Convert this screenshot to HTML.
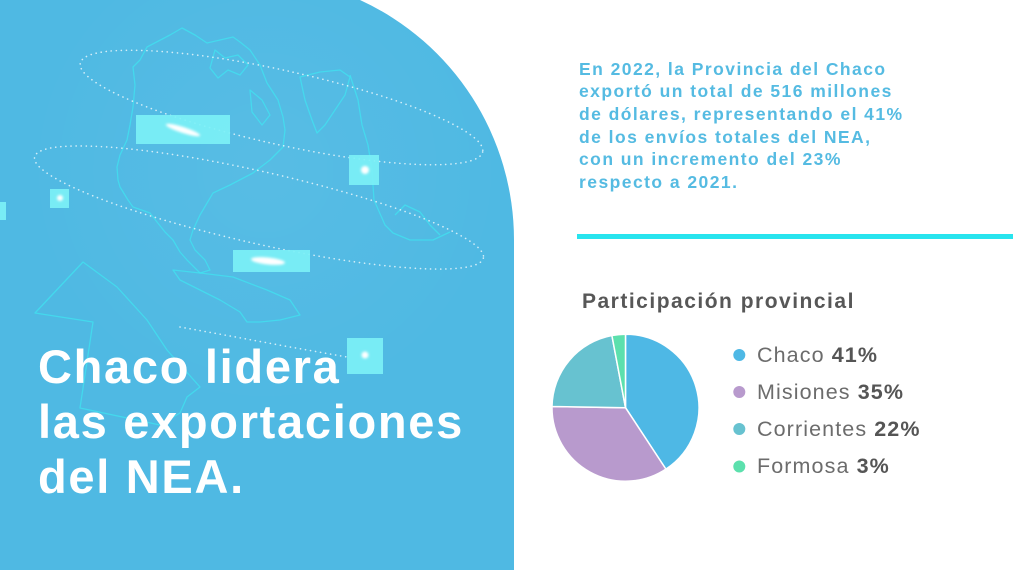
<!DOCTYPE html>
<html>
<head>
<meta charset="utf-8">
<style>
  html,body{margin:0;padding:0;background:#ffffff;}
  body{width:1024px;height:570px;position:relative;overflow:hidden;font-family:"Liberation Sans",Arial,sans-serif;}
  svg.bg{position:absolute;left:0;top:0;}
  .title{position:absolute;left:38px;top:339.2px;color:#ffffff;font-weight:bold;font-size:47px;line-height:55px;letter-spacing:1.7px;white-space:nowrap;}
  .para{position:absolute;left:579px;top:57.6px;color:#55bbe2;font-weight:bold;font-size:17.5px;line-height:22.7px;letter-spacing:1.45px;white-space:nowrap;}
  .ptitle{position:absolute;left:582px;top:290px;color:#575757;font-weight:bold;font-size:21px;line-height:24px;letter-spacing:1.5px;white-space:nowrap;}
  .legend{position:absolute;left:757px;top:336.6px;color:#6c6c6c;font-size:21.5px;line-height:37.2px;letter-spacing:1.1px;white-space:nowrap;}
  .legend b{color:#555555;}
</style>
</head>
<body>
<svg class="bg" width="1024" height="570" viewBox="0 0 1024 570" xmlns="http://www.w3.org/2000/svg">
  <defs>
    <filter id="blur1" x="-50%" y="-50%" width="200%" height="200%"><feGaussianBlur stdDeviation="1.2"/></filter>
    <radialGradient id="globe" cx="0.5" cy="0.5" r="0.5">
      <stop offset="0" stop-color="#ffffff" stop-opacity="0.05"/>
      <stop offset="1" stop-color="#ffffff" stop-opacity="0"/>
    </radialGradient>
    <clipPath id="panel"><path d="M0,0 L360,0 A264,264 0 0 1 514,240 L514,570 L0,570 Z"/></clipPath>
  </defs>

  <path d="M0,0 L360,0 A264,264 0 0 1 514,240 L514,570 L0,570 Z" fill="#4fb9e3"/>

  <g clip-path="url(#panel)">
    <circle cx="265" cy="170" r="240" fill="url(#globe)"/>

    <g fill="none" stroke="#3eeaf2" stroke-width="1.3" stroke-opacity="0.65" stroke-linejoin="round">
      <path d="M182,28 L170,35 L147,47 L140,60 L133,67 L135,85 L133,107 L130,125 L127,140 L120,155 L117,167 L118,180 L120,187 L128,200 L133,207 L150,213 L157,222 L165,232 L173,240 L180,252 L187,260 L200,273 L210,270 L205,260 L195,250 L190,240 L193,230 L200,215 L213,193 L230,185 L253,173 L270,160 L283,147 L285,130 L283,117 L278,100 L267,83 L260,65 L250,50 L240,42 L233,37 L220,40 L207,43 L195,35 Z"/>
      <path d="M215,50 L225,58 L238,55 L248,65 L240,75 L228,70 L218,78 L210,68 Z"/>
      <path d="M250,90 L262,100 L270,115 L262,125 L252,112 Z"/>
      <path d="M300,77 L305,100 L312,120 L317,133 L325,125 L335,110 L345,95 L350,77 L340,70 L320,72 Z"/>
      <path d="M350,75 L358,100 L362,125 L368,145 L372,170 L374,200 L385,225 L393,233 L410,240 L433,240 L450,232"/>
      <path d="M395,215 L405,205 L420,212 L430,225 L440,235"/>
      <path d="M173,270 L200,273 L233,277 L267,290 L290,300 L300,315 L280,320 L260,322 L247,322 L240,312 L220,300 L200,290 L180,280 Z"/>
      <path d="M35,313 L83,262 L117,287 L147,320 L167,350 L200,387 L187,397 L180,413 L160,425 L80,408 L93,322 Z"/>
    </g>

    <g fill="none" stroke="#ffffff" stroke-opacity="0.75" stroke-width="1.6" stroke-dasharray="0.1 5" stroke-linecap="round">
      <ellipse cx="281.5" cy="107.5" rx="206" ry="37" transform="rotate(12.45 281.5 107.5)"/>
      <ellipse cx="259" cy="207.5" rx="230" ry="36" transform="rotate(12.7 259 207.5)"/>
      <path d="M180,327 L230,336 L290,347 L347,357"/>
    </g>

    <g fill="#7cf0f6" fill-opacity="0.92">
      <rect x="136" y="115" width="94" height="29"/>
      <rect x="349" y="155" width="30" height="30"/>
      <rect x="50" y="189" width="19" height="19"/>
      <rect x="0" y="202" width="6" height="18"/>
      <rect x="233" y="250" width="77" height="22"/>
      <rect x="347" y="338" width="36" height="36"/>
    </g>
    <g fill="#ffffff">
      <ellipse cx="183" cy="130" rx="18" ry="3" transform="rotate(18 183 130)" filter="url(#blur1)"/>
      <circle cx="365" cy="170" r="4" filter="url(#blur1)"/>
      <circle cx="60" cy="198" r="3" filter="url(#blur1)"/>
      <ellipse cx="268" cy="261" rx="17" ry="3.5" transform="rotate(6 268 261)" filter="url(#blur1)"/>
      <circle cx="365" cy="355" r="3.5" filter="url(#blur1)"/>
    </g>
  </g>

  <rect x="577" y="234" width="436" height="5" fill="#28e4ee"/>

  <g stroke="#ffffff" stroke-width="1.5" stroke-linejoin="round">
    <path d="M625.5,407.7 L625.5,334.2 A73.5,73.5 0 0 1 665.9,469.1 Z" fill="#4eb8e5"/>
    <path d="M625.5,407.7 L665.9,469.1 A73.5,73.5 0 0 1 552.0,406.5 Z" fill="#b89acd"/>
    <path d="M625.5,407.7 L552.0,406.5 A73.5,73.5 0 0 1 611.9,335.5 Z" fill="#67c2d0"/>
    <path d="M625.5,407.7 L611.9,335.5 A73.5,73.5 0 0 1 625.5,334.2 Z" fill="#5ce0ad"/>
  </g>

  <circle cx="739.3" cy="355" r="6" fill="#4eb8e5"/>
  <circle cx="739.3" cy="392" r="6" fill="#b89acd"/>
  <circle cx="739.3" cy="429" r="6" fill="#67c2d0"/>
  <circle cx="739.3" cy="466.5" r="6" fill="#5ce0ad"/>
</svg>

<div class="title">Chaco lidera<br>las exportaciones<br>del NEA.</div>

<div class="para">En 2022, la Provincia del Chaco<br>exportó un total de 516 millones<br>de dólares, representando el 41%<br>de los envíos totales del NEA,<br>con un incremento del 23%<br>respecto a 2021.</div>

<div class="ptitle">Participación provincial</div>

<div class="legend">Chaco <b>41%</b><br>Misiones <b>35%</b><br>Corrientes <b>22%</b><br>Formosa <b>3%</b></div>
</body>
</html>
